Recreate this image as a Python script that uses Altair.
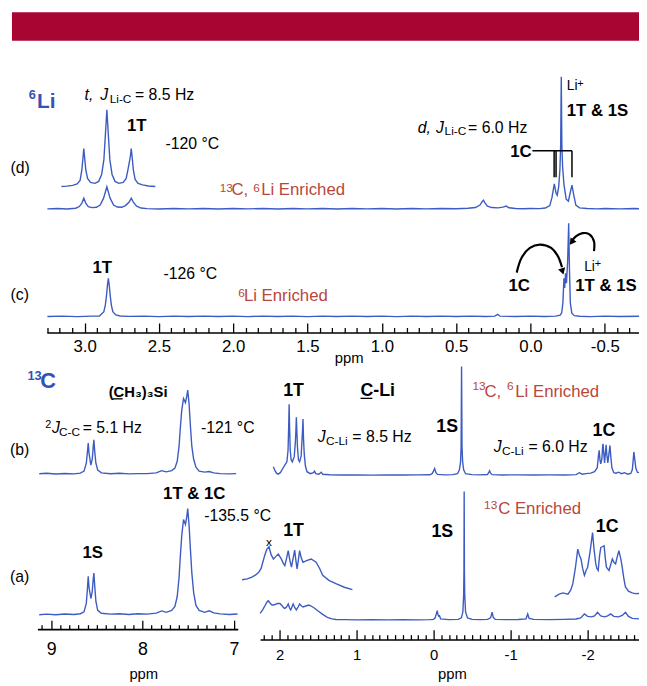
import altair as alt
import pandas as pd

FONT = "Liberation Sans"
BLUE = "#3d5cc1"
LBLUE = "#3352b8"
RED = "#b8473b"
BANNER = "#a80532"

# ---------------- 6Li spectra (ppm, intensity) ----------------
D_MAIN = [(3.25,125.2),(3.18,125.6),(3.12,125.1),(3.06,125.8),(3.035,127.5),(3.018,131),(3.005,136),(2.992,131),
          (2.975,127.5),(2.95,126.4),(2.92,126.8),(2.895,129),(2.872,136),(2.85,147.5),(2.828,136),(2.805,129),
          (2.78,127),(2.75,126.8),(2.725,128.5),(2.70,132),(2.686,136),(2.672,132),(2.65,128),(2.62,126),
          (2.58,125.4),(2.5,125.1),(2.4,125.6),(2.3,125.2),(2.2,125.5),(2.1,125.0),(2.0,125.6),(1.9,125.2),
          (1.8,125.5),(1.7,125.1),(1.6,125.6),(1.5,125.2),(1.4,125.5),(1.3,125.0),(1.2,125.5),(1.1,125.2),
          (1.0,125.6),(0.9,125.1),(0.8,125.5),(0.7,125.2),(0.6,125.6),(0.5,125.3),(0.42,125.8),(0.37,126.5),
          (0.34,129),(0.325,132.5),(0.317,134),(0.305,131),(0.29,128),(0.26,126.5),(0.22,126.2),(0.185,127),
          (0.163,128),(0.145,126.3),(0.1,125.6),(0.05,125.3),(0.0,125.5),(-0.06,125.4),(-0.1,126),(-0.13,128.5),
          (-0.145,137),(-0.16,150.5),(-0.172,141),(-0.18,139),(-0.19,148),(-0.198,165),(-0.203,190),(-0.207,259),
          (-0.211,190),(-0.216,168),(-0.225,150),(-0.24,135),(-0.255,133),(-0.268,142),(-0.279,149.3),(-0.29,140),
          (-0.305,129),(-0.33,126.2),(-0.38,125.5),(-0.45,125.2),(-0.5,125.6),(-0.6,125.2),(-0.7,125.5),(-0.73,125.3)]
D_INSET = [(3.155,147.8),(3.12,148.2),(3.08,149),(3.05,150.5),(3.03,154),(3.018,165),(3.01,178),(3.005,186.3),
           (3.0,178),(2.992,165),(2.98,156),(2.96,152),(2.93,151),(2.905,153),(2.885,160),(2.87,175),(2.86,200),
           (2.85,225.6),(2.84,200),(2.83,175),(2.815,160),(2.795,153),(2.77,151),(2.74,152),(2.72,156),(2.708,165),
           (2.692,178),(2.686,186.3),(2.68,178),(2.672,165),(2.66,155),(2.64,151),(2.61,149.5),(2.57,148.3),(2.524,147.8)]
C_MAIN = [(3.25,16.2),(3.15,16.6),(3.05,16.1),(2.95,16.5),(2.9,16.7),(2.87,21),(2.86,28),(2.852,38),(2.846,48),
          (2.84,54.7),(2.834,48),(2.828,38),(2.82,28),(2.81,21),(2.79,17.8),(2.76,16.7),(2.7,16.3),(2.6,16.6),
          (2.5,16.1),(2.4,16.5),(2.3,16.2),(2.2,16.6),(2.1,16.2),(2.0,16.5),(1.9,16.1),(1.8,16.6),(1.7,16.2),
          (1.6,16.5),(1.5,16.1),(1.4,16.6),(1.3,16.2),(1.2,16.5),(1.1,16.2),(1.0,16.6),(0.9,16.1),(0.8,16.5),
          (0.7,16.2),(0.6,16.6),(0.5,16.2),(0.4,16.5),(0.3,16.2),(0.24,16.5),(0.22,18.3),(0.205,16.5),(0.1,16.2),
          (0.0,16.5),(-0.1,16.2),(-0.17,16.6),(-0.2,17.5),(-0.21,20),(-0.218,30),(-0.225,55),(-0.23,45),
          (-0.236,60),(-0.242,50),(-0.25,72),(-0.257,110.6),(-0.262,65),(-0.268,30),(-0.278,19.5),(-0.295,17),
          (-0.33,16.4),(-0.4,16.1),(-0.5,16.5),(-0.6,16.2),(-0.73,16.4)]
ARROW1 = [(0.0929,60.6),(0.0597,75.6),(0.004,85.6),(-0.0624,89),(-0.139,85.6),(-0.184,77.3),(-0.212,66)]
ARROW2 = [(-0.427,82.3),(-0.427,92.3),(-0.394,99.6),(-0.350,100.6),(-0.305,97.3),(-0.275,92)]
HEADS = [(-0.2157,61.9,163),(-0.277,91.4,216)]
BRACKET = [(-0.013,-0.279,184,184),(-0.159,-0.159,184,157.3),(-0.172,-0.172,184,157.3),(-0.279,-0.279,184,157.3)]

# ---------------- 13C spectra, left panel ----------------
CL_B = [(9.13,157.3),(9.05,157.8),(8.95,157.1),(8.85,157.6),(8.75,157.2),(8.68,158),(8.64,160),(8.615,168),
        (8.602,180),(8.594,188.4),(8.585,178),(8.565,166),(8.55,172),(8.54,184),(8.532,191.7),(8.523,180),
        (8.51,168),(8.49,161),(8.45,158.2),(8.35,157.3),(8.25,157.8),(8.15,157.2),(8.05,157.5),(7.95,157.4),
        (7.85,158.2),(7.79,160.5),(7.74,159.2),(7.68,160.5),(7.645,163),(7.62,170),(7.6,185),(7.585,205),
        (7.57,222),(7.551,233.4),(7.53,229.4),(7.515,236),(7.505,242),(7.49,228),(7.475,205),(7.46,185),
        (7.44,172),(7.415,164),(7.38,160),(7.32,159),(7.27,159.6),(7.22,158.2),(7.15,157.5),(7.05,157.2),(6.975,157.5)]
CL_A = [(9.13,14.6),(9.05,15.2),(8.95,14.5),(8.85,15.3),(8.75,14.8),(8.68,15.6),(8.64,17.5),(8.615,26),
        (8.602,42),(8.594,53.4),(8.585,42),(8.565,31),(8.55,38),(8.54,50),(8.532,56.7),(8.523,44),(8.51,28),
        (8.49,19),(8.45,16),(8.35,15.2),(8.25,15.5),(8.15,14.8),(8.05,15.6),(7.95,15.2),(7.85,16.2),(7.79,18.4),
        (7.74,17),(7.68,19),(7.645,23),(7.62,33),(7.6,52),(7.585,75),(7.57,95),(7.551,111),(7.53,106),
        (7.515,114),(7.505,122),(7.49,105),(7.475,80),(7.46,57),(7.44,37),(7.415,24),(7.38,19),(7.32,17),
        (7.27,18.5),(7.22,16.5),(7.15,15.4),(7.05,14.8),(6.96,15.3)]
CL_UNDER = [(8.325,8.218,233.2,233.2)]

# ---------------- 13C spectra, right panel ----------------
CR_B = [(2.081,175),(2.06,171),(2.04,168.5),(2.02,167.5),(1.99,169),(1.96,173),(1.932,176.6),(1.905,180),
        (1.89,192),(1.882,215),(1.876,238.3),(1.87,215),(1.862,192),(1.85,182),(1.835,180),(1.81,185),
        (1.795,200),(1.788,212),(1.782,225),(1.776,212),(1.768,195),(1.755,182),(1.74,180),(1.72,186),
        (1.71,200),(1.702,212),(1.696,223.3),(1.69,205),(1.68,188),(1.665,176),(1.645,170),(1.6,168),
        (1.56,169),(1.547,170.5),(1.53,168),(1.49,167.5),(1.46,169.5),(1.44,167.4),(1.35,166.9),(1.2,166.6),
        (1.0,166.8),(0.8,166.5),(0.6,166.8),(0.4,166.6),(0.2,166.8),(0.05,166.9),(0.02,168),(0.005,170),
        (-0.013,173.3),(-0.03,169),(-0.05,167.3),(-0.15,166.8),(-0.25,167),(-0.31,168),(-0.335,172),(-0.35,180),
        (-0.357,195),(-0.363,276.6),(-0.369,195),(-0.377,180),(-0.39,172),(-0.415,168),(-0.5,167),(-0.6,166.8),
        (-0.7,167.2),(-0.715,169),(-0.727,171),(-0.74,168.5),(-0.76,167),(-0.9,166.7),(-1.1,166.8),(-1.3,166.6),
        (-1.5,166.8),(-1.7,166.7),(-1.85,167),(-1.893,169),(-1.93,167.5),(-1.98,168),(-2.04,168.5),(-2.09,170),
        (-2.125,174),(-2.14,186),(-2.15,191.6),(-2.16,182),(-2.17,178),(-2.185,183),(-2.195,196),(-2.2,198.3),
        (-2.208,190),(-2.22,179),(-2.232,190),(-2.24,197.3),(-2.248,188),(-2.262,179),(-2.28,190),(-2.29,196.6),
        (-2.3,186),(-2.315,174),(-2.34,169),(-2.37,168.5),(-2.4,169.5),(-2.44,168),(-2.48,169),(-2.52,167.5),
        (-2.56,168.2),(-2.58,172),(-2.592,182),(-2.6,190),(-2.61,184),(-2.625,174),(-2.645,169.5),(-2.667,169)]
CR_A = [(2.253,26.6),(2.22,30),(2.185,35),(2.16,38.5),(2.145,39.3),(2.125,37),(2.1,35),(2.08,35),(2.06,35.5),
        (2.03,36.5),(1.996,36.6),(1.965,34),(1.945,32),(1.932,31.6),(1.91,33),(1.888,36),(1.87,32),(1.855,30),
        (1.84,33),(1.824,36),(1.8,32),(1.782,30),(1.76,33),(1.74,36),(1.715,34),(1.696,33),(1.66,34),(1.62,35),
        (1.59,34),(1.55,32),(1.5,29),(1.44,25.5),(1.38,22.5),(1.32,21),(1.269,20.3),(1.15,20.2),(1.0,20),
        (0.8,20.1),(0.6,20),(0.4,20.1),(0.2,20),(0.05,20.2),(0.0,20.5),(-0.02,22),(-0.035,26),(-0.047,29.3),
        (-0.057,25),(-0.067,23.5),(-0.077,24),(-0.09,21),(-0.2,20.2),(-0.32,20.5),(-0.36,22),(-0.38,28),
        (-0.39,45),(-0.394,70),(-0.397,150),(-0.40,70),(-0.404,45),(-0.415,28),(-0.44,22),(-0.5,20.4),
        (-0.6,20.2),(-0.7,20.4),(-0.74,22),(-0.76,27.7),(-0.775,22.5),(-0.8,20.5),(-0.95,20.2),(-1.1,20.3),
        (-1.2,21),(-1.222,26),(-1.24,21.5),(-1.3,20.4),(-1.5,20.2),(-1.7,20.4),(-1.85,20.8),(-1.91,22),
        (-1.958,26),(-2.0,23.5),(-2.05,23),(-2.09,24),(-2.128,27.7),(-2.17,24),(-2.22,23),(-2.26,24),
        (-2.299,26),(-2.34,23.5),(-2.4,23),(-2.45,24.5),(-2.491,27.7),(-2.53,23.5),(-2.58,21.5),(-2.667,21)]
CR_A_1T = [(2.487,60.6),(2.42,61.5),(2.359,63.3),(2.31,65.5),(2.269,68.3),(2.24,72),(2.218,78.3),(2.19,86),
           (2.167,91.3),(2.137,94),(2.11,86),(2.08,81.6),(2.05,84),(2.017,86.6),(1.98,82),(1.95,77),(1.932,75),
           (1.91,82),(1.888,90),(1.866,80),(1.846,73.3),(1.825,82),(1.804,90.6),(1.788,80),(1.773,71.6),
           (1.757,80),(1.74,90),(1.72,83),(1.696,78.3),(1.65,80),(1.59,81.6),(1.526,78.3),(1.48,72),(1.44,65),
           (1.36,60),(1.269,56.6),(1.16,53),(1.055,50.6)]
CR_A_1C = [(-1.573,43.3),(-1.63,46),(-1.679,47.3),(-1.744,46),(-1.78,50),(-1.808,56.6),(-1.84,72),(-1.872,91.6),
           (-1.895,85),(-1.914,81.6),(-1.935,72),(-1.958,65),(-1.98,70),(-2.0,73.3),(-2.03,88),(-2.064,108.3),
           (-2.085,90),(-2.106,76.6),(-2.12,72),(-2.137,70),(-2.155,85),(-2.171,93.3),(-2.19,94),(-2.214,95),
           (-2.23,82),(-2.244,73.3),(-2.278,70),(-2.3,76),(-2.321,81.6),(-2.343,78),(-2.363,76.6),(-2.385,84),
           (-2.406,90),(-2.43,82),(-2.449,73.3),(-2.47,62),(-2.491,53.3),(-2.53,49),(-2.577,47.3),(-2.62,46.5),
           (-2.667,46.6)]
CR_UNDER = [(0.949,0.795,244.3,244.3)]

# ---------------- labels (text, ppm, intensity, font size) ----------------
LI_BLUE = [("6", 3.375, 236, 13), ("Li", 3.32, 227.3, 21)]
LI_ITAL = [("t,", 3.0, 235.6, 16), ("J", 2.894, 235.6, 16), ("d,", 0.7587, 202.3, 16), ("J", 0.635, 202.3, 16)]
LI_NORM = [("Li-C", 2.831, 232.3, 12), ("= 8.5 Hz", 2.661, 235.6, 16), ("-120 °C", 2.456, 185.3, 16),
           ("(d)", 3.498, 161.3, 16), ("Li-C", 0.578, 199.6, 12), ("= 6.0 Hz", 0.42, 202.3, 16),
           ("Li", -0.2436, 245.6, 14), ("+", -0.315, 249, 11), ("(c)", 3.498, 33, 16), ("-126 °C", 2.469, 54, 16),
           ("Li", -0.361, 62.3, 14), ("+", -0.433, 66.3, 11)]
LI_BOLD = [("1T", 2.715, 204.3, 17), ("1T & 1S", -0.2436, 219, 17), ("1C", 0.137, 178, 17),
           ("1T", 2.947, 60.6, 17), ("1C", 0.148, 42.3, 17), ("1T & 1S", -0.301, 42.3, 17)]
LI_RED = [("13", 2.0907, 142, 12), ("C,", 2.012, 139, 17), ("6", 1.865, 142, 12), ("Li Enriched", 1.812, 139, 17),
          ("6", 1.9666, 35.6, 12), ("Li Enriched", 1.928, 32.3, 17)]

CL_BLUE = [("13", 9.26, 252, 13), ("C", 9.12, 244.4, 22)]
CL_ITAL = [("J", 8.99, 198.7, 16)]
CL_NORM = [("(b)", 9.451, 176, 16), ("= 5.1 Hz", 8.655, 198.7, 16), ("C-C", 8.913, 195.4, 12),
           ("2", 9.065, 203.7, 11), ("-121 °C", 7.361, 198.7, 16), ("(a)", 9.451, 47.7, 16),
           ("-135.5 °C", 7.324, 109.4, 16)]
CL_BOLD = [("(CH₃)₃Si", 8.370, 235.4, 15), ("1S", 8.658, 71.7, 17), ("1T & 1C", 7.775, 131.7, 17)]

CR_ITAL = [("J", 1.504, 200, 16), ("J", -0.782, 190, 16)]
CR_NORM = [("C-Li", 1.397, 197.3, 12), ("= 8.5 Hz", 1.055, 200, 16), ("C-Li", -0.888, 186.6, 12),
           ("= 6.0 Hz", -1.231, 190, 16), ("x", 2.175, 95, 12)]
CR_BOLD = [("1T", 1.953, 246.6, 18), ("C-Li", 0.949, 246.6, 18), ("1S", -0.035, 210.6, 18), ("1C", -2.064, 206, 18),
           ("1T", 1.953, 105, 18), ("1S", 0.029, 104, 18), ("1C", -2.106, 109, 18)]
CR_RED = [("13", -0.504, 252.3, 12), ("C,", -0.66, 246, 17), ("6", -0.953, 252.3, 12), ("Li Enriched", -1.06, 246, 17),
          ("13", -0.655, 132.3, 12), ("C Enriched", -0.838, 127.3, 17)]

# tick positions
LI_TICKS = [round(k / 12, 5) for k in range(-8, 40)]
CL_TICKS = [round(7 + k * 0.1, 3) for k in range(0, 22)]
CR_TICKS = [round(-2.6 + k * 0.1, 3) for k in range(0, 49)]

# ---------------- scales & axes ----------------
LI_X = alt.Scale(domain=[3.254, -0.73], range=[39.3, 639], nice=False, zero=False)
LI_Y = alt.Scale(domain=[0, 260], range=[324.3, 64.3], nice=False, zero=False)
CL_X = alt.Scale(domain=[9.15, 6.957], range=[29.8, 232.7], nice=False, zero=False)
CL_Y = alt.Scale(domain=[0, 250], range=[624.7, 374.7], nice=False, zero=False)
CR_X = alt.Scale(domain=[2.253, -2.667], range=[255.3, 639], nice=False, zero=False)
CR_Y = alt.Scale(domain=[0, 300], range=[635.3, 335.3], nice=False, zero=False)


def make_axis(values, test, fmt, ypos, big, small, lsize, lpos, tx, ty):
    return alt.Axis(
        orient="top", offset=-ypos, values=values, grid=False,
        labelExpr=f"({test}) ? ((datum.value < -0.001 ? '-' : '') + format(abs(datum.value), '{fmt}')) : ''",
        tickSize={"condition": {"test": test, "value": big}, "value": small},
        labelPadding=-(big + lpos), labelBaseline="middle", labelFontSize=lsize, labelFont=FONT,
        labelColor="black", labelFlush=False, labelOverlap=False,
        tickColor="black", tickWidth=1.3, domainColor="black", domainWidth=1.6,
        title="ppm", titleX=tx, titleY=ty, titleFont=FONT, titleFontSize=15, titleFontWeight="normal",
        titleBaseline="middle", titleAlign="center", titleColor="black")


LI_AX = make_axis(LI_TICKS, "abs(datum.value*2 - round(datum.value*2)) < 0.001", ".1f", 324.3, 9.6, 5, 17, 14.4, 345, 25.7)
CL_AX = make_axis(CL_TICKS, "abs(datum.value - round(datum.value)) < 0.001", ".0f", 624.7, 9, 4.5, 18, 20.6, 137, 44.8)
CR_AX = make_axis(CR_TICKS, "abs(datum.value - round(datum.value)) < 0.001", ".0f", 635.3, 10, 5, 15, 15, 449.5, 34.7)


def enc_xy(xs, ys, xa, xf="ppm", yf="I"):
    return dict(x=alt.X(f"{xf}:Q", scale=xs, axis=xa), y=alt.Y(f"{yf}:Q", scale=ys, axis=None))


def trace(pairs, xs, ys, xa, color=BLUE, width=1.4):
    df = pd.DataFrame(pairs, columns=["ppm", "I"])
    return alt.Chart(df).mark_line(color=color, strokeWidth=width).encode(**enc_xy(xs, ys, xa))


def curve(pairs, xs, ys, xa):
    df = pd.DataFrame(pairs, columns=["ppm", "I"])
    df["k"] = range(len(df))
    return alt.Chart(df).mark_line(color="black", strokeWidth=2.2, interpolate="catmull-rom").encode(
        order="k:Q", **enc_xy(xs, ys, xa))


def texts(rows, xs, ys, xa, color="black", weight="normal", style="normal"):
    df = pd.DataFrame(rows, columns=["text", "ppm", "I", "size"])
    return alt.Chart(df).mark_text(align="left", baseline="alphabetic", font=FONT, fontWeight=weight,
                                   fontStyle=style, color=color).encode(
        text="text:N", size=alt.Size("size:Q", scale=None), **enc_xy(xs, ys, xa))


def rules(rows, xs, ys, xa, width=1.5):
    df = pd.DataFrame(rows, columns=["x1", "x2", "y1", "y2"])
    return alt.Chart(df).mark_rule(color="black", strokeWidth=width).encode(
        x=alt.X("x1:Q", scale=xs, axis=xa), x2="x2:Q",
        y=alt.Y("y1:Q", scale=ys, axis=None), y2="y2:Q")


heads_df = pd.DataFrame(HEADS, columns=["ppm", "I", "ang"])
heads = alt.Chart(heads_df).mark_point(shape="triangle-up", filled=True, color="black", size=55, opacity=1).encode(
    angle=alt.Angle("ang:Q", scale=None), **enc_xy(LI_X, LI_Y, LI_AX))

li_group = alt.layer(
    trace(D_MAIN, LI_X, LI_Y, LI_AX), trace(D_INSET, LI_X, LI_Y, LI_AX), trace(C_MAIN, LI_X, LI_Y, LI_AX),
    curve(ARROW1, LI_X, LI_Y, LI_AX), curve(ARROW2, LI_X, LI_Y, LI_AX), heads,
    rules(BRACKET, LI_X, LI_Y, LI_AX),
    texts(LI_BLUE, LI_X, LI_Y, LI_AX, color=LBLUE, weight="bold"),
    texts(LI_ITAL, LI_X, LI_Y, LI_AX, style="italic"),
    texts(LI_NORM, LI_X, LI_Y, LI_AX),
    texts(LI_BOLD, LI_X, LI_Y, LI_AX, weight="bold"),
    texts(LI_RED, LI_X, LI_Y, LI_AX, color=RED),
)

cl_group = alt.layer(
    trace(CL_B, CL_X, CL_Y, CL_AX), trace(CL_A, CL_X, CL_Y, CL_AX),
    rules(CL_UNDER, CL_X, CL_Y, CL_AX, width=1.3),
    texts(CL_BLUE, CL_X, CL_Y, CL_AX, color=LBLUE, weight="bold"),
    texts(CL_ITAL, CL_X, CL_Y, CL_AX, style="italic"),
    texts(CL_NORM, CL_X, CL_Y, CL_AX),
    texts(CL_BOLD, CL_X, CL_Y, CL_AX, weight="bold"),
)

cr_group = alt.layer(
    trace(CR_B, CR_X, CR_Y, CR_AX), trace(CR_A, CR_X, CR_Y, CR_AX),
    trace(CR_A_1T, CR_X, CR_Y, CR_AX), trace(CR_A_1C, CR_X, CR_Y, CR_AX),
    rules(CR_UNDER, CR_X, CR_Y, CR_AX, width=1.3),
    texts(CR_ITAL, CR_X, CR_Y, CR_AX, style="italic"),
    texts(CR_NORM, CR_X, CR_Y, CR_AX),
    texts(CR_BOLD, CR_X, CR_Y, CR_AX, weight="bold"),
    texts(CR_RED, CR_X, CR_Y, CR_AX, color=RED),
)

banner = alt.Chart(pd.DataFrame({"a": [0]})).mark_rect(color=BANNER).encode(
    x=alt.value(4), x2=alt.value(639), y=alt.value(0), y2=alt.value(29))

chart = alt.layer(banner, li_group, cl_group, cr_group).resolve_scale(
    x="independent", y="independent"
).properties(
    width=639, height=676, padding=0, autosize=alt.AutoSizeParams(type="none")
).configure_view(strokeWidth=0)

chart.save("out.html", embed_options={"renderer": "svg", "actions": False})
